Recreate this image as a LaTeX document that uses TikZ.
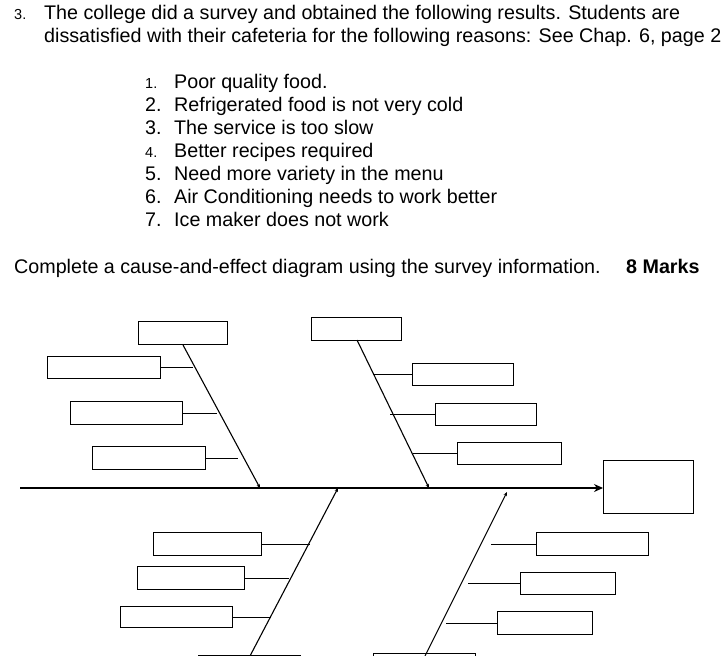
\documentclass[tikz,border=0pt]{standalone}
\usepackage{fontspec}
\setmainfont{Liberation Sans}
\usetikzlibrary{arrows.meta}
\tikzset{
  txt/.style={anchor=base west, inner sep=0pt, font=\fontsize{19.7}{22}\selectfont},
  smallnum/.style={anchor=base west, inner sep=0pt, font=\fontsize{14.5}{16}\selectfont},
  line/.style={draw=black, line width=1.1pt},
  box/.style={draw=black, line width=1.1pt, anchor=north west, inner sep=0pt},
  branch/.style={draw=black, line width=1.1pt, -{Stealth[length=4pt,width=3.5pt]}},
}
\begin{document}
\begin{tikzpicture}[x=1pt,y=-1pt]
\useasboundingbox (0,0) rectangle (723,656);
\fill[white] (0,0) rectangle (723,656);
\clip (0,0) rectangle (723,656);
% header
\node[smallnum] (h3) at (14,19) {3.};
\node[txt] (h1) at (44,19) {The college did a survey and obtained the following results. Students are};
\node[txt] (h2) at (44,42) {dissatisfied with their cafeteria for the following reasons: See Chap. 6, page 2};
% list
\node[smallnum] (n1) at (145,88) {1.};
\node[txt] (t1) at (174,88) {Poor quality food.};
\node[txt] (n2) at (145,111) {2.};
\node[txt] (t2) at (174,111) {Refrigerated food is not very cold};
\node[txt] (n3) at (145,134) {3.};
\node[txt] (t3) at (174,134) {The service is too slow};
\node[smallnum] (n4) at (145,157) {4.};
\node[txt] (t4) at (174,157) {Better recipes required};
\node[txt] (n5) at (145,180) {5.};
\node[txt] (t5) at (174,180) {Need more variety in the menu};
\node[txt] (n6) at (145,203) {6.};
\node[txt] (t6) at (174,203) {Air Conditioning needs to work better};
\node[txt] (n7) at (145,226) {7.};
\node[txt] (t7) at (174,226) {Ice maker does not work};
% instruction
\node[txt] (q) at (14,273) {Complete a cause-and-effect diagram using the survey information.};
\node[txt, font=\fontsize{19.7}{22}\selectfont\bfseries] (m) at (626,273) {8 Marks};

% spine and effect
\coordinate (s0) at (20,488);
\node[box, minimum width=90pt, minimum height=53pt] (eff) at (603,460) {};
\draw[line, -{Stealth[length=9pt,width=8pt]}] (s0) -- (eff.west |- s0);

% top-left branch
\node[box, minimum width=89pt, minimum height=23pt] (A0) at (138,321) {};
\coordinate (A0b) at (183,345);
\coordinate (Aend) at (260,488);
\draw[branch] (A0b) -- (Aend);
\node[box, minimum width=113pt, minimum height=22pt] (A1) at (47,356) {};
\node[box, minimum width=112pt, minimum height=23pt] (A2) at (70,401) {};
\node[box, minimum width=113pt, minimum height=23pt] (A3) at (92,446) {};
\coordinate (a1) at (193,367);
\coordinate (a2) at (217,412);
\coordinate (a3) at (238,457);
\draw[line] (A1.east) -- (A1.east -| a1);
\draw[line] (A2.east) -- (A2.east -| a2);
\draw[line] (A3.east) -- (A3.east -| a3);

% top-right branch
\node[box, minimum width=90pt, minimum height=23pt] (B0) at (311,317) {};
\coordinate (B0b) at (357,340);
\coordinate (Bend) at (429,488);
\draw[branch] (B0b) -- (Bend);
\node[box, minimum width=101pt, minimum height=22pt] (B1) at (412,363) {};
\node[box, minimum width=101pt, minimum height=22pt] (B2) at (435,403) {};
\node[box, minimum width=104pt, minimum height=22pt] (B3) at (457,442) {};
\coordinate (b1) at (373,374);
\coordinate (b2) at (390,414);
\coordinate (b3) at (413,453);
\draw[line] (B1.west -| b1) -- (B1.west);
\draw[line] (B2.west -| b2) -- (B2.west);
\draw[line] (B3.west -| b3) -- (B3.west);

% bottom-left branch
\node[box, minimum width=102pt, minimum height=23pt] (C0) at (198,655) {};
\coordinate (C0t) at (250,656);
\coordinate (Cend) at (338,488);
\draw[branch] (C0t) -- (Cend);
\node[box, minimum width=108pt, minimum height=23pt] (C1) at (153,532) {};
\node[box, minimum width=107pt, minimum height=23pt] (C2) at (137,566) {};
\node[box, minimum width=112pt, minimum height=21pt] (C3) at (120,606) {};
\coordinate (c1) at (310,543);
\coordinate (c2) at (289,578);
\coordinate (c3) at (271,616);
\draw[line] (C1.east) -- (C1.east -| c1);
\draw[line] (C2.east) -- (C2.east -| c2);
\draw[line] (C3.east) -- (C3.east -| c3);

% bottom-right branch
\node[box, minimum width=102pt, minimum height=23pt] (D0) at (373,653) {};
\coordinate (D0t) at (425,656);
\coordinate (Dend) at (507,492);
\draw[branch] (D0t) -- (Dend);
\node[box, minimum width=112pt, minimum height=23pt] (D1) at (536,532) {};
\node[box, minimum width=95pt, minimum height=22pt] (D2) at (520,572) {};
\node[box, minimum width=95pt, minimum height=23pt] (D3) at (497,611) {};
\coordinate (d1) at (491,543);
\coordinate (d2) at (468,582);
\coordinate (d3) at (446,623);
\draw[line] (D1.west -| d1) -- (D1.west);
\draw[line] (D2.west -| d2) -- (D2.west);
\draw[line] (D3.west -| d3) -- (D3.west);
\end{tikzpicture}
\end{document}
